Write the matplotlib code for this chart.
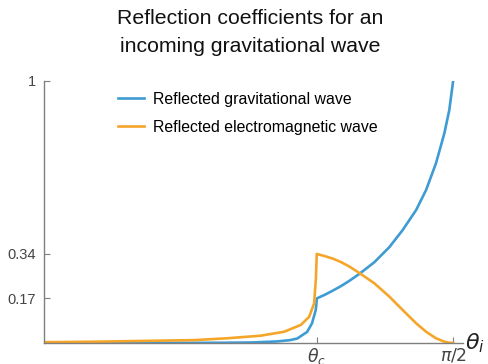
# Reflection coefficients vs angle of incidence, gravitational wave in
import numpy as np
import matplotlib
matplotlib.use('Agg')
import matplotlib.pyplot as plt

plt.rcParams['font.family'] = ['Liberation Sans', 'DejaVu Sans']
plt.rcParams['mathtext.fontset'] = 'dejavusans'

theta_c = np.pi / 3
theta_max = np.pi / 2

# gravitational wave (blue)
grav_theta = [0.0, 0.4, 0.70, 0.80, 0.895, 0.945, 0.972, 1.010, 1.029, 1.043, 1.046, theta_c,
              1.080, 1.109, 1.140, 1.172, 1.211, 1.268, 1.326, 1.377, 1.429, 1.467, 1.505,
              1.537, 1.556, theta_max]
grav_R = [0.0, 0.0, 0.001, 0.002, 0.006, 0.011, 0.017, 0.042, 0.075, 0.125, 0.15, 0.17,
          0.185, 0.200, 0.217, 0.237, 0.264, 0.308, 0.366, 0.431, 0.508, 0.584, 0.686,
          0.800, 0.889, 1.0]

# electromagnetic wave (orange)
em_theta = [0.0, 0.200, 0.384, 0.576, 0.703, 0.833, 0.922, 0.986, 1.018, 1.037, 1.044, theta_c,
            1.080, 1.109, 1.140, 1.172, 1.211, 1.268, 1.326, 1.377, 1.429, 1.467, 1.505,
            1.537, 1.556, theta_max]
em_R = [0.003, 0.005, 0.008, 0.011, 0.018, 0.028, 0.043, 0.069, 0.100, 0.151, 0.248, 0.34,
        0.331, 0.322, 0.309, 0.292, 0.267, 0.228, 0.177, 0.126, 0.075, 0.043, 0.018,
        0.005, 0.001, 0.0]

blue = '#3e9bd4'
orange = '#f5a62a'
axis_grey = '#7f7f7f'

fig = plt.figure(figsize=(4.89, 3.64), dpi=100)
ax = fig.add_axes([0.090, 0.0577, 0.857, 0.7198])

ax.plot(grav_theta, grav_R, color=blue, lw=1.9, label='Reflected gravitational wave',
        solid_joinstyle='round')
ax.plot(em_theta, em_R, color=orange, lw=1.9, label='Reflected electromagnetic wave',
        solid_joinstyle='round')

ax.set_xlim(0, 1.609)
ax.set_ylim(0, 1)
for s in ['top', 'right']:
    ax.spines[s].set_visible(False)
for s in ['left', 'bottom']:
    ax.spines[s].set_color(axis_grey)
    ax.spines[s].set_linewidth(1.0)

ax.set_xticks([theta_c, theta_max])
ax.set_xticklabels([r'$\theta_c$', r'$\pi/2$'])
ax.set_yticks([0.17, 0.34, 1])
ax.set_yticklabels(['0.17', '0.34', '1'])
ax.tick_params(axis='both', direction='in', length=4, color=axis_grey,
               labelcolor='#444444')
ax.tick_params(axis='y', labelsize=10.5, pad=6)
ax.tick_params(axis='x', labelsize=12.5, pad=2)

ax.text(1.005, 0.0, r'$\theta_i$', transform=ax.transAxes, fontsize=16,
        ha='left', va='center', color='#222222')

ax.legend(loc='upper left', bbox_to_anchor=(0.143, 1.013), frameon=False,
          fontsize=11.4, handlelength=1.6, handletextpad=0.6, labelspacing=0.8)

fig.text(0.512, 0.9505, 'Reflection coefficients for an', ha='center', va='center',
         fontsize=15.3, color='#111111')
fig.text(0.512, 0.8736, 'incoming gravitational wave', ha='center', va='center',
         fontsize=15.3, color='#111111')

plt.savefig('out.png', dpi=100)
